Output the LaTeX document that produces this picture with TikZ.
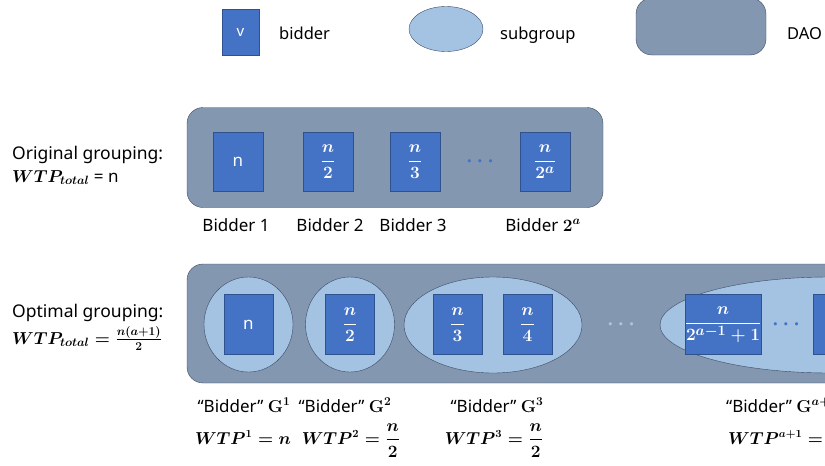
\documentclass[tikz,border=0pt]{standalone}
\usepackage[no-math]{fontspec}
\setmainfont{Noto Sans}
\usepackage{amsmath}
\usetikzlibrary{shapes.geometric,positioning}

\definecolor{bidderblue}{HTML}{4472C4}
\definecolor{bidderedge}{HTML}{2F528F}
\definecolor{subfill}{HTML}{A4C2E2}
\definecolor{subedge}{HTML}{3A4A66}
\definecolor{daofill}{HTML}{8497B0}
\definecolor{daoedge}{HTML}{3E4A5E}
\definecolor{dotlight}{HTML}{B4C4DA}

\tikzset{
  bidderbox/.style={draw=bidderedge, fill=bidderblue, text=white, inner sep=0pt,
    minimum width=50pt, minimum height=59pt, font=\fontsize{19}{22}\selectfont\boldmath},
  plainbox/.style={bidderbox, font=\fontsize{17}{20}\selectfont},
  subgroup/.style={ellipse, draw=subedge, fill=subfill, inner sep=0pt},
  dao/.style={draw=daoedge, fill=daofill, rounded corners=16pt, inner sep=0pt},
  lbl/.style={font=\fontsize{17}{20}\selectfont, inner sep=0pt},
  glbl/.style={font=\fontsize{17}{20}\selectfont\boldmath, inner sep=0pt},
  mlbl/.style={font=\fontsize{16}{20}\selectfont\boldmath, inner sep=0pt},
  dotsnode/.style={font=\fontsize{20}{22}\selectfont\boldmath, inner sep=0pt},
}

\begin{document}
\begin{tikzpicture}[x=1pt,y=-1pt]
\useasboundingbox (0,0) rectangle (825,466);
\clip (0,0) rectangle (825,466);

% Legend
\node[plainbox, minimum width=37pt, minimum height=46pt,
  font=\fontsize{15}{18}\selectfont] (legbidder) at (240.5,32) {v};
\node[lbl, anchor=base west, font=\fontsize{16.5}{19}\selectfont] (legbiddertxt) at (279,39) {bidder};
\node[subgroup, minimum width=74pt, minimum height=45pt] (legsub) at (446,29) {};
\node[lbl, anchor=base west, font=\fontsize{16.5}{19}\selectfont] (legsubtxt) at (500,39) {subgroup};
\node[dao, minimum width=130pt, minimum height=57pt] (legdao) at (701,26.5) {};
\node[lbl, anchor=base west, font=\fontsize{16.5}{19}\selectfont] (legdaotxt) at (787,39) {DAO};

% Original grouping
\node[lbl, anchor=base west, font=\fontsize{17.5}{20}\selectfont] (origtxt) at (12,159) {Original grouping:};
\node[glbl, anchor=base west] (origwtp) at (12,182) {$WTP_{total}$ = n};
\node[dao, minimum width=416pt, minimum height=100pt] (origdao) at (395,157.5) {};
\node[plainbox] (ob1) at (238,162) {n};
\node[bidderbox] (ob2) at (328,162) {$\dfrac{n}{2}$};
\node[bidderbox] (ob3) at (415,162) {$\dfrac{n}{3}$};
\node[dotsnode, text=bidderblue] (odots) at (482,162) {$\cdots$};
\node[bidderbox] (ob4) at (545,162) {$\dfrac{n}{2^a}$};
\node[lbl, anchor=base] (ol1) at (236,231) {Bidder 1};
\node[lbl, anchor=base] (ol2) at (330,231) {Bidder 2};
\node[lbl, anchor=base] (ol3) at (413,231) {Bidder 3};
\node[glbl, anchor=base] (ol4) at (543,231) {Bidder $2^a$};

% Optimal grouping
\node[lbl, anchor=base west, font=\fontsize{17.5}{20}\selectfont] (opttxt) at (12,317) {Optimal grouping:};
\node[glbl, anchor=base west] (optwtp) at (12,344) {$WTP_{total} = \frac{n(a+1)}{2}$};
\node[dao, minimum width=713pt, minimum height=119pt] (optdao) at (543.5,323.5) {};

\node[subgroup, minimum width=89pt, minimum height=95pt] (g1) at (248.5,324.5) {};
\node[plainbox, minimum width=49pt, minimum height=60pt] (pb1) at (g1) {n};
\node[subgroup, minimum width=89pt, minimum height=95pt] (g2) at (350,324.5) {};
\node[bidderbox, minimum width=49pt, minimum height=60pt] (pb2) at (g2) {$\dfrac{n}{2}$};
\node[subgroup, minimum width=178pt, minimum height=96pt] (g3) at (493,325) {};
\node[bidderbox, minimum width=49pt, minimum height=60pt] (pb3) at (457.5,324.5) {$\dfrac{n}{3}$};
\node[bidderbox, minimum width=49pt, minimum height=60pt] (pb4) at (527.5,324.5) {$\dfrac{n}{4}$};
\node[dotsnode, text=dotlight] (pdots) at (623,324.5) {$\cdots$};
\node[subgroup, minimum width=340pt, minimum height=96pt] (g4) at (830,325) {};
\node[bidderbox, minimum width=68pt, minimum height=60pt] (pb5) at (723,324.5) {$\dfrac{n}{2^{a-1}+1}$};
\node[dotsnode, text=bidderblue] (pdots2) at (788,324.5) {$\cdots$};
\node[bidderbox, minimum width=49pt, minimum height=60pt] (pb6) at (837.5,324.5) {};

\node[glbl, anchor=base] (gl1) at (244,412) {“Bidder” $\mathrm{G}^1$};
\node[mlbl, anchor=base] (gw1) at (243,444) {$WTP^1 = n$};
\node[glbl, anchor=base] (gl2) at (345,412) {“Bidder” $\mathrm{G}^2$};
\node[mlbl, anchor=base] (gw2) at (351,444) {$WTP^2 = \dfrac{n}{2}$};
\node[glbl, anchor=base] (gl3) at (497,412) {“Bidder” $\mathrm{G}^3$};
\node[mlbl, anchor=base] (gw3) at (494,444) {$WTP^3 = \dfrac{n}{2}$};
\node[glbl, anchor=base west] (gl4) at (726,412) {“Bidder” $\mathrm{G}^{a+1}$};
\node[mlbl, anchor=base west] (gw4) at (728,444) {$WTP^{a+1} = \dfrac{n}{2}$};
\end{tikzpicture}
\end{document}
